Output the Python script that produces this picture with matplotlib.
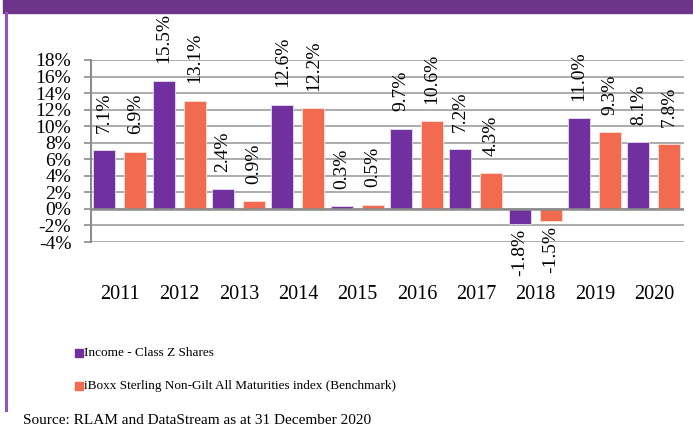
import matplotlib
matplotlib.use("Agg")
import matplotlib.pyplot as plt
import numpy as np

years = ["2011", "2012", "2013", "2014", "2015", "2016", "2017", "2018", "2019", "2020"]
fund = [7.1, 15.5, 2.4, 12.6, 0.3, 9.7, 7.2, -1.8, 11.0, 8.1]
bench = [6.9, 13.1, 0.9, 12.2, 0.5, 10.6, 4.3, -1.5, 9.3, 7.8]
fund_name = "Income - Class Z Shares"
bench_name = "iBoxx Sterling Non-Gilt All Maturities index (Benchmark)"
source = "Source: RLAM and DataStream as at 31 December 2020"
yticks = [-4, -2, 0, 2, 4, 6, 8, 10, 12, 14, 16, 18]

PURPLE = "#7030A0"
ORANGE = "#F26B50"
SERIF = ["Liberation Serif", "DejaVu Serif"]

W, H = 693, 432
fig = plt.figure(figsize=(W / 100, H / 100), dpi=100)
fig.patch.set_facecolor("white")

# top banner and left border
fig.patches.append(plt.Rectangle((3 / W, 1 - 13 / H), 1, 13 / H, transform=fig.transFigure,
                                 color="#6C3589", zorder=0))
fig.lines.append(plt.Line2D([5.5 / W, 5.5 / W], [1 - 13 / H, 1 - 410 / H], transform=fig.transFigure,
                            color="#8F55C4", lw=2.2))

ax = fig.add_axes([90.7 / W, 1 - 242 / H, (684 - 90.7) / W, (242 - 60) / H])
x = np.arange(len(years))
bw = 0.37
ax.bar(x - 0.5 + 0.232, fund, bw, color=PURPLE, edgecolor="#E8DDF0", lw=0.6, zorder=3, align="center")
ax.bar(x - 0.5 + 0.752, bench, bw, color=ORANGE, edgecolor="#FBE0D8", lw=0.6, zorder=3, align="center")

for xs, vals in ((x - 0.5 + 0.232, fund), (x - 0.5 + 0.752, bench)):
    for xi, v in zip(xs, vals):
        if v >= 0:
            ax.annotate(f"{v:.1f}%", (xi, v), xytext=(0, 12.5), textcoords="offset points",
                        rotation=90, ha="center", va="bottom", fontsize=14, family=SERIF)
        else:
            ax.annotate(f"{v:.1f}%", (xi, v), xytext=(0, -3.5), textcoords="offset points",
                        rotation=90, ha="center", va="top", fontsize=14, family=SERIF)

ax.set_xlim(-0.5, len(years) - 0.5)
ax.set_ylim(-4, 18)
ax.set_yticks(yticks)
ax.set_yticklabels([f"{t}%" for t in yticks], family=SERIF, fontsize=14)
ax.set_xticks(x)
ax.set_xticklabels(years, family=SERIF, fontsize=14.5)
ax.tick_params(axis="x", length=0, pad=31)
ax.tick_params(axis="y", length=5, width=1.2, color="#8C8C8C", pad=9)
for s in ("top", "right", "bottom"):
    ax.spines[s].set_visible(False)
ax.spines["left"].set_color("#8C8C8C")
ax.spines["left"].set_linewidth(1.5)
ax.grid(axis="y", color="#A6A6A6", lw=1.3, zorder=0)
ax.axhline(0, color="#8C8C8C", lw=1.8, zorder=4)
ax.set_facecolor("none")

# legend
for yy, col, name in ((353, PURPLE, fund_name), (386, ORANGE, bench_name)):
    fig.patches.append(plt.Rectangle((75 / W, 1 - (yy + 4) / H), 7.5 / W, 8 / H,
                                     transform=fig.transFigure, color=col))
    fig.text(84 / W, 1 - yy / H, name, family=SERIF, fontsize=9.5, va="center", ha="left")

fig.text(23 / W, 1 - 421 / H, source, family=SERIF, fontsize=11.0, va="center", ha="left")

fig.savefig("out.png", dpi=100)
